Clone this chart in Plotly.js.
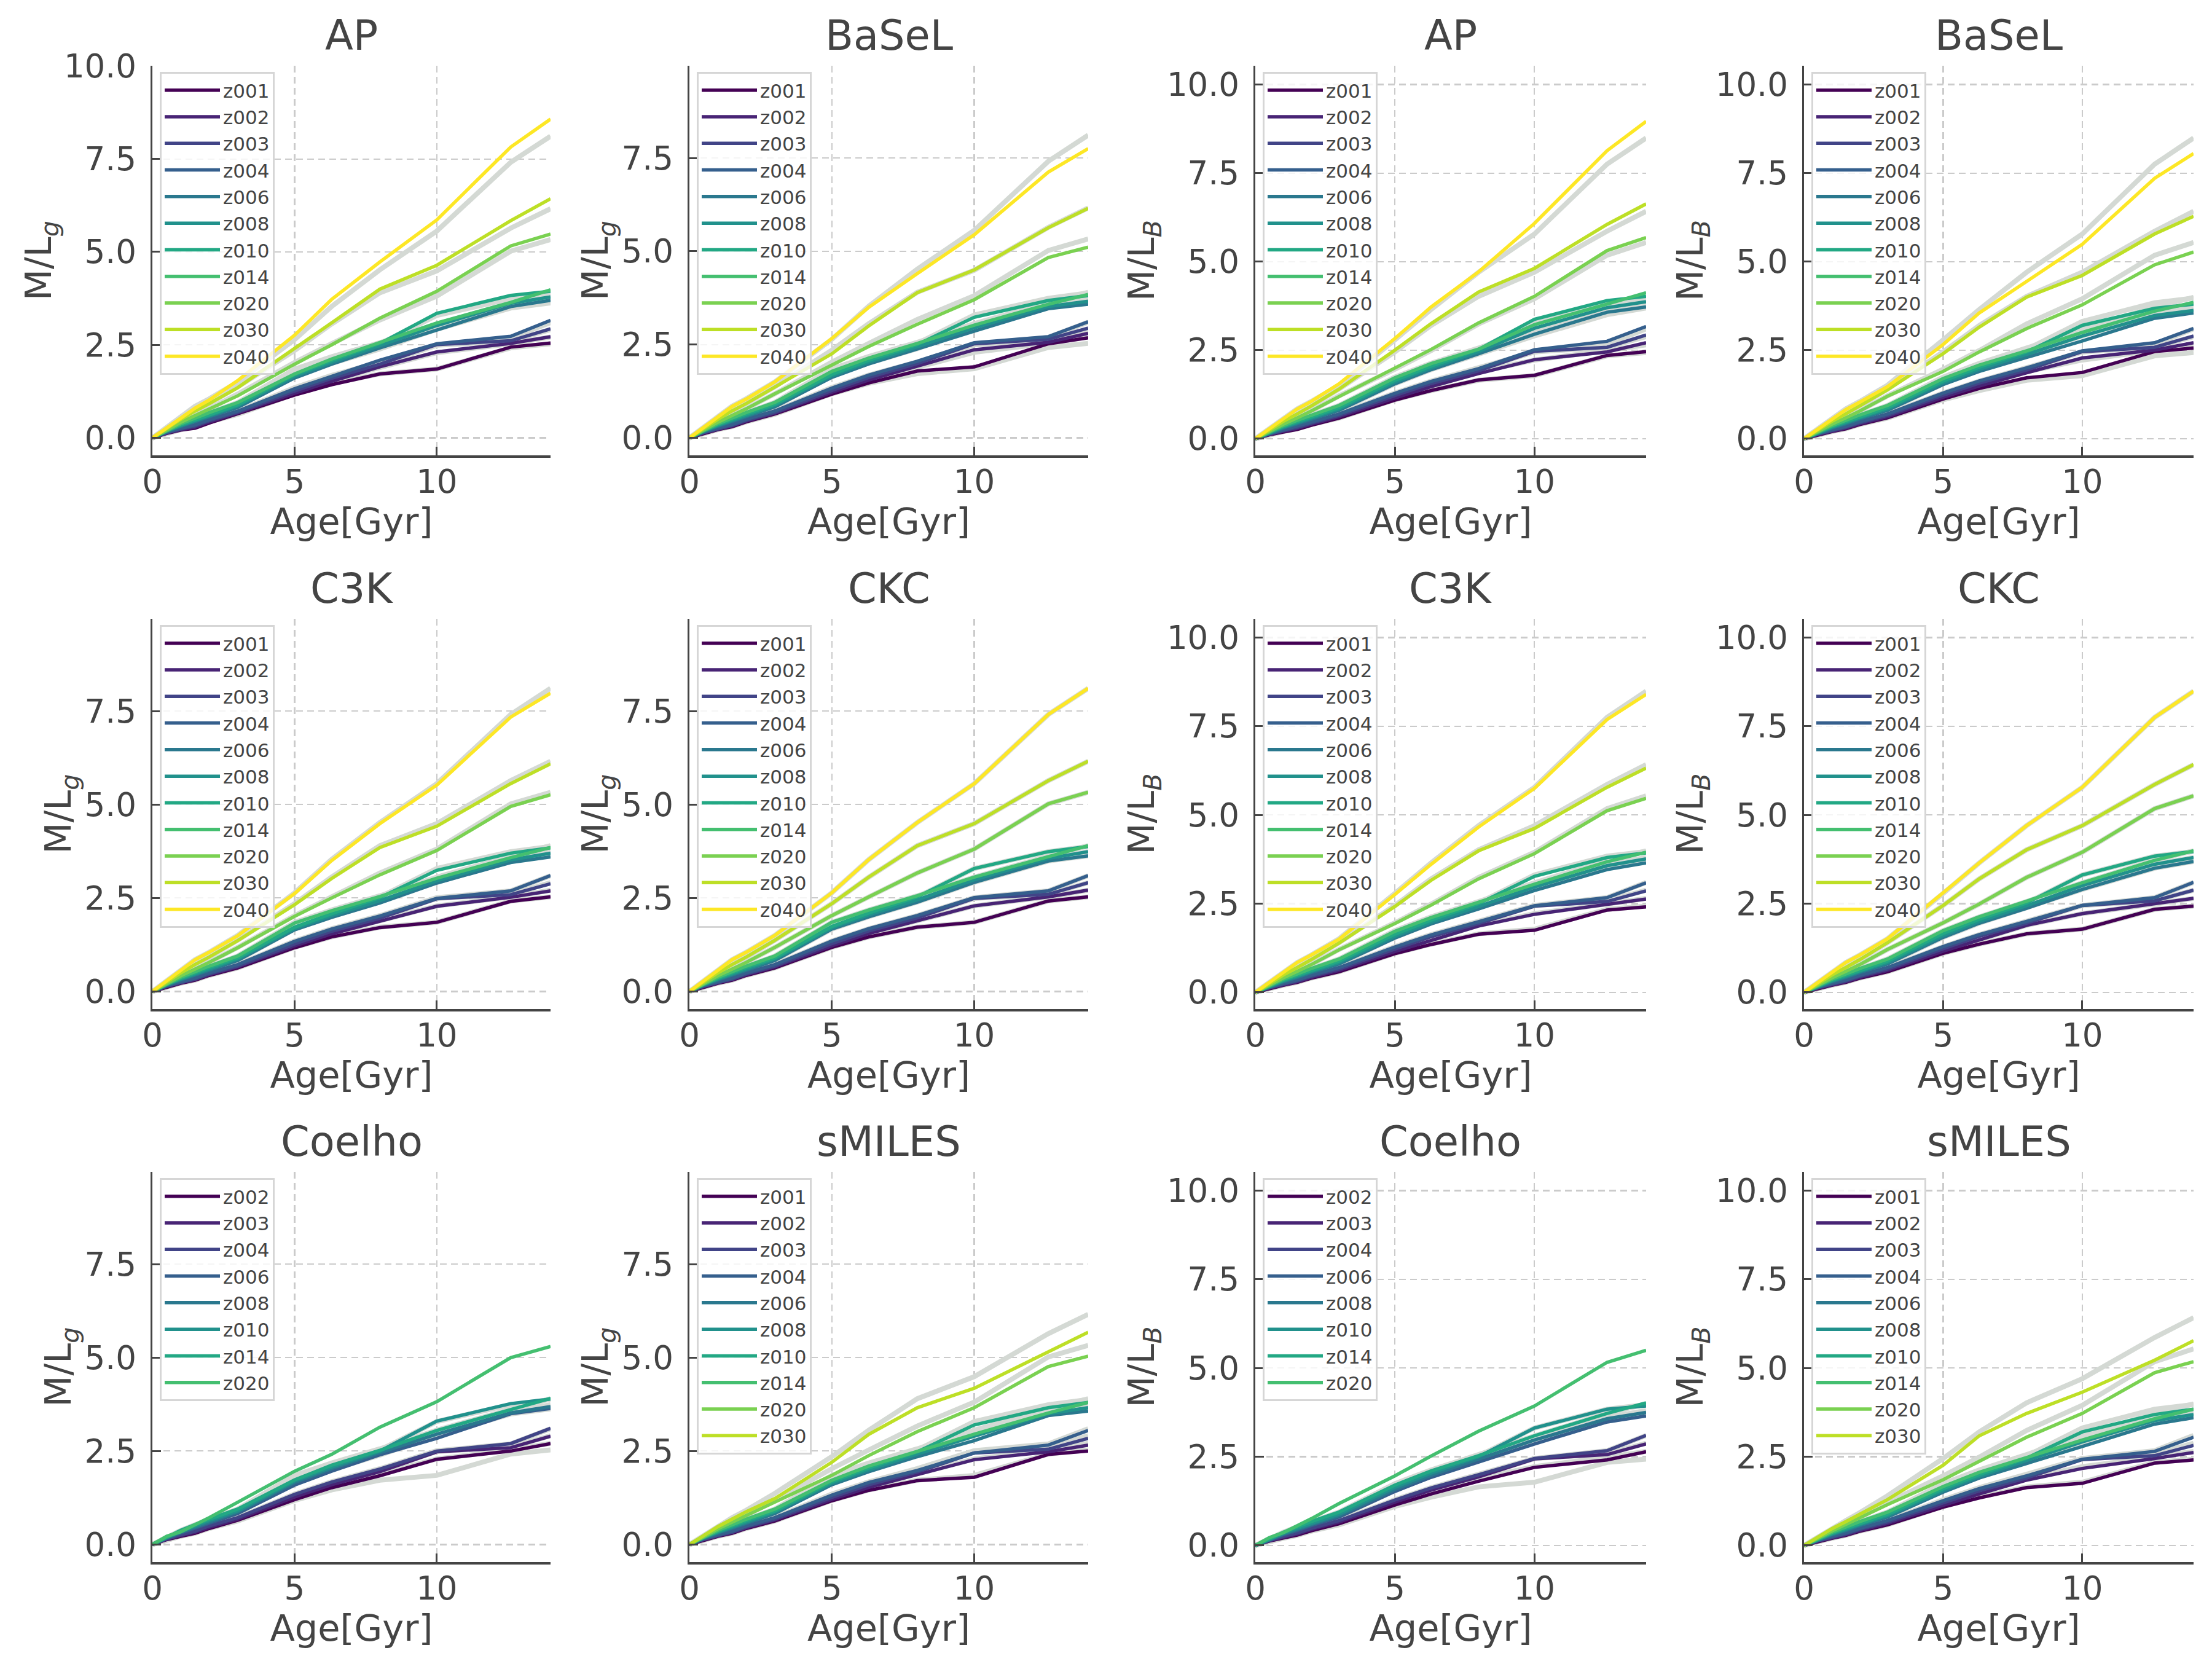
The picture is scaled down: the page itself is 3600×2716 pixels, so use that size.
<!DOCTYPE html>
<html>
<head>
<meta charset="utf-8">
<script src="https://cdn.plot.ly/plotly-3.0.1.min.js"></script>
<style>html,body{margin:0;padding:0;background:#fff;}#chart{width:3600px;height:2716px;}</style>
</head>
<body>
<div id="chart"></div>
<script>
// ---------------- DATA ----------------
const ages = [0, 0.5, 1, 1.5, 2, 3, 5, 6.3, 8, 10, 12.6, 14];

const labelsFull   = ["z001","z002","z003","z004","z006","z008","z010","z014","z020","z030","z040"];
const labelsCoelho = ["z002","z003","z004","z006","z008","z010","z014","z020"];
const labelsSMILES = ["z001","z002","z003","z004","z006","z008","z010","z014","z020","z030"];

const viridis11 = ["#440154","#482475","#414487","#355f8d","#2a788e","#21918c","#22a884","#44bf70","#7ad151","#bddf26","#fde725"];

// M/L_g
const CKC_g = [
 [0,.12,.22,.30,.43,.63,1.18,1.46,1.72,1.85,2.42,2.53],
 [0,.13,.23,.32,.45,.66,1.22,1.55,1.89,2.29,2.53,2.71],
 [0,.14,.24,.33,.47,.68,1.28,1.62,1.97,2.49,2.60,2.91],
 [0,.15,.26,.36,.50,.72,1.35,1.68,2.03,2.51,2.69,3.10],
 [0,.17,.31,.44,.58,.83,1.67,2.00,2.39,2.92,3.49,3.63],
 [0,.18,.33,.47,.61,.87,1.70,2.05,2.45,2.99,3.56,3.74],
 [0,.19,.35,.50,.64,.90,1.74,2.10,2.53,3.29,3.74,3.88],
 [0,.20,.38,.53,.68,.95,1.85,2.18,2.56,3.06,3.62,3.90],
 [0,.22,.42,.60,.78,1.18,2.03,2.53,3.17,3.81,5.02,5.33],
 [0,.25,.50,.72,.92,1.37,2.35,3.06,3.90,4.49,5.64,6.16],
 [0,.28,.57,.85,1.05,1.50,2.64,3.53,4.52,5.56,7.41,8.11]];
const AP_g = [
 [0,.12,.21,.26,.40,.65,1.15,1.43,1.72,1.85,2.44,2.55],
 [0,.13,.22,.29,.43,.67,1.20,1.52,1.91,2.31,2.54,2.72],
 [0,.14,.24,.32,.46,.69,1.26,1.60,1.98,2.51,2.61,2.93],
 [0,.15,.26,.35,.49,.72,1.32,1.66,2.09,2.53,2.73,3.16],
 [0,.17,.31,.43,.57,.82,1.61,1.98,2.42,2.90,3.53,3.70],
 [0,.18,.33,.46,.60,.86,1.66,2.03,2.48,3.02,3.62,3.79],
 [0,.19,.35,.49,.63,.89,1.70,2.08,2.54,3.35,3.83,3.94],
 [0,.20,.38,.53,.68,.95,1.72,2.12,2.56,3.09,3.64,3.98],
 [0,.22,.42,.60,.78,1.13,1.98,2.50,3.22,3.94,5.16,5.48],
 [0,.25,.50,.72,.92,1.35,2.39,3.09,4.00,4.64,5.84,6.43],
 [0,.26,.54,.80,1.02,1.54,2.76,3.72,4.73,5.86,7.82,8.57]];
const BaSeL_g = [
 [0,.12,.22,.30,.43,.64,1.17,1.47,1.79,1.90,2.52,2.68],
 [0,.13,.23,.32,.45,.66,1.22,1.55,1.92,2.36,2.56,2.80],
 [0,.14,.24,.33,.47,.68,1.27,1.62,1.99,2.52,2.64,2.94],
 [0,.15,.26,.36,.50,.72,1.33,1.68,2.05,2.55,2.71,3.11],
 [0,.17,.31,.44,.58,.83,1.62,1.98,2.38,2.86,3.46,3.58],
 [0,.18,.33,.47,.61,.87,1.66,2.03,2.44,2.95,3.52,3.66],
 [0,.19,.35,.50,.64,.90,1.70,2.08,2.50,3.23,3.68,3.81],
 [0,.20,.38,.53,.68,.95,1.78,2.14,2.53,3.02,3.58,3.84],
 [0,.22,.42,.60,.78,1.18,1.95,2.45,3.04,3.70,4.83,5.11],
 [0,.25,.50,.72,.92,1.36,2.25,3.00,3.89,4.50,5.63,6.15],
 [0,.28,.56,.84,1.04,1.50,2.66,3.50,4.40,5.44,7.12,7.75]];
const C3K_g = [
 [0,.12,.22,.30,.43,.63,1.17,1.46,1.71,1.85,2.41,2.53],
 [0,.13,.23,.32,.45,.66,1.22,1.54,1.88,2.28,2.52,2.69],
 [0,.14,.24,.33,.47,.68,1.27,1.61,1.96,2.48,2.59,2.88],
 [0,.15,.26,.36,.50,.72,1.34,1.67,2.02,2.49,2.69,3.10],
 [0,.17,.31,.44,.58,.83,1.65,1.98,2.37,2.90,3.45,3.60],
 [0,.18,.33,.47,.61,.87,1.68,2.03,2.43,2.96,3.52,3.70],
 [0,.19,.35,.50,.64,.90,1.72,2.08,2.51,3.24,3.70,3.84],
 [0,.20,.38,.53,.68,.95,1.83,2.16,2.54,3.03,3.58,3.85],
 [0,.22,.42,.60,.78,1.17,2.01,2.50,3.12,3.77,4.95,5.26],
 [0,.25,.50,.72,.92,1.36,2.32,3.02,3.85,4.42,5.56,6.09],
 [0,.28,.57,.85,1.05,1.49,2.62,3.50,4.49,5.52,7.34,7.98]];
const Coelho_g = [
 [0,.13,.22,.30,.43,.65,1.20,1.52,1.84,2.28,2.50,2.70],
 [0,.14,.24,.33,.46,.68,1.27,1.60,1.95,2.48,2.59,2.90],
 [0,.15,.26,.36,.50,.72,1.34,1.67,2.02,2.50,2.70,3.11],
 [0,.17,.31,.44,.58,.83,1.59,1.96,2.40,2.84,3.50,3.64],
 [0,.18,.33,.47,.61,.87,1.66,2.03,2.46,2.95,3.52,3.69],
 [0,.19,.35,.50,.64,.90,1.70,2.07,2.50,3.30,3.77,3.89],
 [0,.20,.38,.53,.68,.95,1.73,2.12,2.52,3.05,3.62,3.91],
 [0,.22,.34,.52,.72,1.13,1.96,2.41,3.14,3.82,5.00,5.30]];
const sMILES_g = [
 [0,.12,.22,.30,.43,.63,1.17,1.45,1.71,1.80,2.41,2.50],
 [0,.13,.23,.32,.45,.66,1.21,1.53,1.87,2.27,2.48,2.66],
 [0,.14,.24,.33,.47,.68,1.26,1.60,1.94,2.45,2.55,2.84],
 [0,.15,.26,.36,.50,.72,1.32,1.66,1.98,2.45,2.66,3.05],
 [0,.17,.31,.44,.58,.83,1.60,1.95,2.35,2.78,3.45,3.57],
 [0,.18,.33,.47,.61,.87,1.64,2.00,2.42,2.90,3.50,3.66],
 [0,.19,.35,.50,.64,.90,1.68,2.05,2.48,3.20,3.66,3.80],
 [0,.20,.38,.53,.68,.95,1.72,2.10,2.50,2.95,3.52,3.80],
 [0,.22,.42,.60,.78,1.15,1.85,2.38,3.02,3.66,4.76,5.04],
 [0,.25,.48,.68,.88,1.23,2.20,2.95,3.66,4.18,5.17,5.68]];

// M/L_B
const CKC_B = [
 [0,.11,.20,.28,.40,.58,1.10,1.36,1.65,1.78,2.34,2.43],
 [0,.12,.21,.30,.42,.62,1.16,1.48,1.89,2.22,2.49,2.65],
 [0,.13,.23,.32,.45,.66,1.23,1.58,1.95,2.45,2.58,2.88],
 [0,.14,.25,.35,.48,.70,1.29,1.63,2.00,2.45,2.67,3.10],
 [0,.16,.30,.42,.56,.80,1.55,1.95,2.37,2.90,3.50,3.69],
 [0,.17,.32,.45,.59,.84,1.60,2.00,2.44,3.01,3.61,3.80],
 [0,.18,.34,.48,.62,.88,1.66,2.06,2.52,3.31,3.84,3.97],
 [0,.19,.37,.52,.67,.94,1.74,2.13,2.56,3.09,3.72,3.99],
 [0,.21,.41,.59,.78,1.21,1.96,2.49,3.24,3.95,5.18,5.54],
 [0,.24,.49,.70,.92,1.40,2.45,3.20,4.02,4.70,5.86,6.42],
 [0,.27,.56,.84,1.05,1.51,2.79,3.65,4.70,5.78,7.75,8.49]];
const AP_B = [
 [0,.11,.19,.26,.38,.58,1.09,1.36,1.66,1.79,2.35,2.46],
 [0,.12,.21,.29,.41,.62,1.15,1.47,1.84,2.23,2.45,2.71],
 [0,.13,.23,.32,.44,.66,1.22,1.56,1.92,2.47,2.58,2.93],
 [0,.14,.25,.35,.47,.70,1.28,1.62,1.98,2.51,2.75,3.17],
 [0,.16,.30,.42,.55,.80,1.55,1.95,2.40,2.95,3.57,3.72],
 [0,.17,.32,.45,.58,.84,1.60,2.00,2.46,3.12,3.70,3.87],
 [0,.18,.34,.48,.61,.88,1.65,2.05,2.52,3.37,3.90,4.02],
 [0,.19,.37,.52,.66,.94,1.72,2.12,2.53,3.22,3.80,4.12],
 [0,.21,.41,.59,.78,1.19,1.98,2.52,3.27,4.02,5.31,5.68],
 [0,.24,.49,.70,.92,1.40,2.50,3.25,4.14,4.81,6.05,6.63],
 [0,.27,.56,.84,1.05,1.55,2.83,3.72,4.71,6.08,8.13,8.96]];
const BaSeL_B = [
 [0,.11,.20,.28,.40,.59,1.12,1.42,1.72,1.87,2.46,2.56],
 [0,.12,.21,.30,.42,.62,1.17,1.49,1.86,2.28,2.50,2.71],
 [0,.13,.23,.32,.45,.66,1.23,1.57,1.94,2.46,2.58,2.90],
 [0,.14,.25,.35,.48,.70,1.29,1.63,2.00,2.48,2.71,3.11],
 [0,.16,.30,.42,.56,.80,1.53,1.90,2.30,2.76,3.40,3.55],
 [0,.17,.32,.45,.59,.84,1.58,1.96,2.38,2.90,3.48,3.62],
 [0,.18,.34,.48,.62,.88,1.63,2.02,2.45,3.20,3.68,3.80],
 [0,.19,.37,.52,.67,.94,1.70,2.08,2.48,3.00,3.60,3.85],
 [0,.21,.41,.59,.78,1.20,1.90,2.45,3.11,3.78,4.91,5.27],
 [0,.24,.49,.70,.92,1.38,2.40,3.15,4.00,4.61,5.78,6.28],
 [0,.27,.55,.82,1.03,1.47,2.66,3.55,4.44,5.49,7.35,8.05]];
const C3K_B = [
 [0,.11,.20,.28,.40,.58,1.09,1.35,1.64,1.75,2.32,2.41],
 [0,.12,.21,.30,.42,.62,1.15,1.47,1.87,2.20,2.47,2.63],
 [0,.13,.23,.32,.45,.66,1.22,1.57,1.94,2.43,2.56,2.86],
 [0,.14,.25,.35,.48,.70,1.28,1.62,1.99,2.44,2.67,3.09],
 [0,.16,.30,.42,.56,.80,1.53,1.93,2.35,2.87,3.46,3.65],
 [0,.17,.32,.45,.59,.84,1.58,1.98,2.42,2.97,3.57,3.76],
 [0,.18,.34,.48,.62,.88,1.64,2.04,2.50,3.27,3.80,3.93],
 [0,.19,.37,.52,.67,.94,1.72,2.11,2.54,3.05,3.68,3.95],
 [0,.21,.41,.59,.78,1.20,1.94,2.46,3.20,3.91,5.12,5.47],
 [0,.24,.49,.70,.92,1.39,2.42,3.16,3.99,4.62,5.78,6.32],
 [0,.27,.56,.84,1.05,1.50,2.76,3.61,4.66,5.75,7.69,8.40]];
const Coelho_B = [
 [0,.12,.21,.29,.41,.61,1.14,1.45,1.81,2.20,2.41,2.64],
 [0,.13,.23,.32,.45,.66,1.22,1.56,1.93,2.44,2.56,2.86],
 [0,.14,.25,.35,.48,.70,1.28,1.62,1.99,2.45,2.67,3.10],
 [0,.16,.30,.42,.56,.80,1.52,1.92,2.36,2.86,3.48,3.65],
 [0,.17,.32,.45,.59,.84,1.58,1.98,2.43,2.97,3.57,3.75],
 [0,.18,.34,.48,.62,.88,1.64,2.04,2.50,3.31,3.84,3.93],
 [0,.19,.37,.52,.67,.94,1.70,2.10,2.53,3.09,3.72,4.02],
 [0,.22,.36,.55,.75,1.18,1.96,2.52,3.22,3.93,5.16,5.50]];
const sMILES_B = [
 [0,.11,.20,.28,.40,.58,1.08,1.34,1.63,1.75,2.32,2.41],
 [0,.12,.21,.30,.42,.62,1.13,1.45,1.84,2.17,2.45,2.62],
 [0,.13,.23,.32,.45,.66,1.20,1.54,1.90,2.42,2.53,2.82],
 [0,.14,.25,.35,.48,.70,1.26,1.60,1.96,2.43,2.65,3.05],
 [0,.16,.30,.42,.56,.80,1.50,1.90,2.32,2.79,3.42,3.60],
 [0,.17,.32,.45,.59,.84,1.55,1.95,2.40,2.92,3.52,3.69],
 [0,.18,.34,.48,.62,.88,1.60,2.00,2.46,3.20,3.69,3.84],
 [0,.19,.37,.52,.67,.94,1.66,2.06,2.48,2.97,3.57,3.84],
 [0,.21,.41,.59,.78,1.15,1.85,2.37,3.05,3.72,4.87,5.18],
 [0,.24,.47,.67,.87,1.29,2.26,3.09,3.72,4.32,5.22,5.77]];

// panels in row-major order
const panelTitles = ["AP","BaSeL","AP","BaSeL","C3K","CKC","C3K","CKC","Coelho","sMILES","Coelho","sMILES"];
const panelBands  = ["g","g","B","B","g","g","B","B","g","g","B","B"];
const panelData   = [AP_g,BaSeL_g,AP_B,BaSeL_B,C3K_g,CKC_g,C3K_B,CKC_B,Coelho_g,sMILES_g,Coelho_B,sMILES_B];
const panelLabels = [labelsFull,labelsFull,labelsFull,labelsFull,labelsFull,labelsFull,labelsFull,labelsFull,labelsCoelho,labelsSMILES,labelsCoelho,labelsSMILES];
const yTopG = 9.97, yTopGFirst = 10.005, yTopB = 10.53, yBottom = -0.47;

// ---------------- LAYOUT GEOMETRY (pixels) ----------------
const W = 3600, H = 2716;
const colPx = [[248,896],[1122,1771],[2043,2679],[2936,3570]];
const rowPx = [[107,741],[1007,1642],[1907,2542]];
const TXT = "#444444";
const FONT = "DejaVu Sans";

const traces = [];
const layout = {
  width: W, height: H,
  margin: {l:0, r:0, t:0, b:0},
  paper_bgcolor: "#ffffff", plot_bgcolor: "#ffffff",
  font: {family: FONT, color: TXT, size: 53},
  showlegend: true,
  annotations: []
};

for (let p = 0; p < 12; p++) {
  const r = Math.floor(p / 4), c = p % 4;
  const sfx = p === 0 ? "" : String(p + 1);
  const xa = "x" + sfx, ya = "y" + sfx;
  const legName = "legend" + sfx;
  const data = panelData[p];
  const labels = panelLabels[p];
  const ref = panelBands[p] === "g" ? CKC_g : CKC_B;

  // grey reference (CKC) curves, first N
  for (let i = 0; i < data.length; i++) {
    traces.push({
      x: ages, y: ref[i], xaxis: xa, yaxis: ya, type: "scatter", mode: "lines",
      line: {color: "#d4d9d4", width: 8}, showlegend: false, hoverinfo: "skip"
    });
  }
  for (let i = 0; i < data.length; i++) {
    traces.push({
      x: ages, y: data[i], xaxis: xa, yaxis: ya, type: "scatter", mode: "lines",
      name: labels[i], legend: legName, legendgroup: "p" + p + "_" + i,
      line: {color: viridis11[i], width: 5.5}, hoverinfo: "skip"
    });
  }

  const x0 = colPx[c][0] / W, x1 = colPx[c][1] / W;
  const y0 = 1 - rowPx[r][1] / H, y1 = 1 - rowPx[r][0] / H;
  const ytop = panelBands[p] === "B" ? yTopB : (p === 0 ? yTopGFirst : yTopG);

  const common = {
    showline: true, linecolor: TXT, linewidth: 3.5, mirror: false,
    ticks: "inside", ticklen: 14, tickwidth: 3, tickcolor: TXT,
    showgrid: true, gridcolor: "#cbcbcb", gridwidth: 2.2, griddash: "11px,7px",
    zeroline: false, tickfont: {family: FONT, size: 53, color: TXT},
    fixedrange: true
  };
  layout["xaxis" + sfx] = Object.assign({}, common, {
    domain: [x0, x1], anchor: ya, range: [0, 14], tickvals: [0, 5, 10], ticktext: ["0","5","10"],
    ticklabelstandoff: -6,
    title: {text: "Age[Gyr]", font: {family: FONT, size: 59, color: TXT}, standoff: 4}
  });
  layout["yaxis" + sfx] = Object.assign({}, common, {
    domain: [y0, y1], anchor: xa, range: [yBottom, ytop], tick0: 0, dtick: 2.5, tickformat: ".1f",
    ticklabelstandoff: 12,
    title: {text: panelBands[p] === "g" ? "M/L<sub><i>g</i></sub>" : "M/L<sub><i>B</i></sub>",
            font: {family: FONT, size: 59, color: TXT}, standoff: 2}
  });
  layout[legName] = {
    x: (colPx[c][0] + 12) / W, y: 1 - (rowPx[r][0] + 10) / H,
    xanchor: "left", yanchor: "top",
    bgcolor: "rgba(255,255,255,0.8)", bordercolor: "#d6d6d6", borderwidth: 3,
    font: {family: FONT, size: 31, color: TXT},
    traceorder: "grouped", tracegroupgap: 0, itemwidth: 90
  };
  layout.annotations.push({
    text: panelTitles[p], xref: "paper", yref: "paper",
    x: (x0 + x1) / 2, y: 1 - (rowPx[r][0] - 8) / H,
    xanchor: "center", yanchor: "bottom", showarrow: false,
    font: {family: FONT, size: 67, color: TXT}
  });
}

Plotly.newPlot("chart", traces, layout, {staticPlot: true, displayModeBar: false});
</script>
</body>
</html>
